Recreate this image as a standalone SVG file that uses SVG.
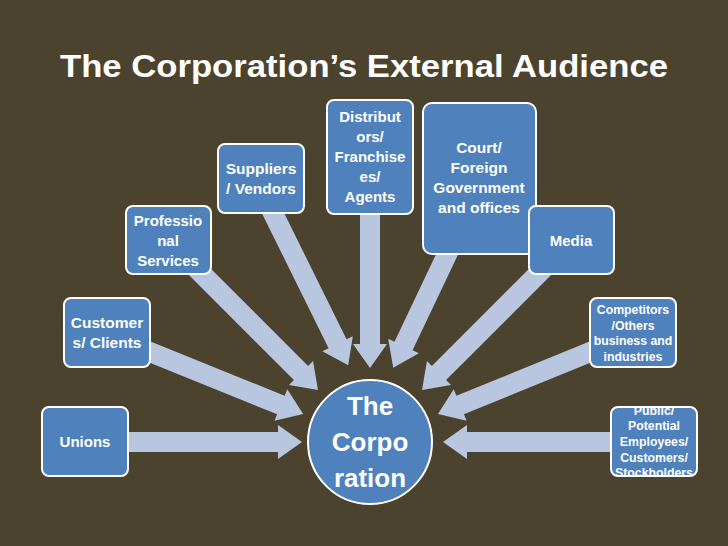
<svg xmlns="http://www.w3.org/2000/svg" width="728" height="546" viewBox="0 0 728 546">
<defs>
<style>
.bg{fill:#4b432e}
.box{fill:#4f81bd;stroke:#ffffff;stroke-width:2}
.arr{fill:#b8c6e0}
.t{font-family:"Liberation Sans",Arial,sans-serif;font-weight:bold;fill:#ffffff;text-anchor:middle}
.t15{font-size:15px}
.t12{font-size:12.3px}
.t16{font-size:15.5px}
</style>
<polygon id="ah" points="0,-10 -24,-10 -24,-18 0,0 -24,18 -24,10"/>
<clipPath id="pubclip"><rect x="611" y="407" width="86" height="69" rx="7"/></clipPath>
</defs>
<rect class="bg" x="0" y="0" width="728" height="546"/>
<text class="t" x="364" y="77" font-size="31" textLength="608" lengthAdjust="spacingAndGlyphs">The Corporation’s External Audience</text>

<g id="connectors">
<polygon class="arr" transform="translate(120,442) rotate(0)" points="0,-10 158,-10 158,-17 182,0 158,17 158,10 0,10"/>
<polygon class="arr" transform="translate(620,442) rotate(180)" points="0,-10 153,-10 153,-17 177,0 153,17 153,10 0,10"/>
<polygon class="arr" transform="translate(140,348) rotate(22.04)" points="0,-10 152,-10 152,-17 176,0 152,17 152,10 0,10"/>
<polygon class="arr" transform="translate(600,348) rotate(157.83)" points="0,-10 151,-10 151,-17 175,0 151,17 151,10 0,10"/>
<polygon class="arr" transform="translate(190,262) rotate(45)" points="0,-10 157,-10 157,-17 181,0 157,17 157,10 0,10"/>
<polygon class="arr" transform="translate(550,262) rotate(135)" points="0,-10 157,-10 157,-17 181,0 157,17 157,10 0,10"/>
<polygon class="arr" transform="translate(268,203) rotate(63.7)" points="0,-10 157,-10 157,-17 181,0 157,17 157,10 0,10"/>
<polygon class="arr" transform="translate(452,244) rotate(115.4)" points="0,-10 113,-10 113,-17 137,0 113,17 113,10 0,10"/>
<polygon class="arr" transform="translate(370,205) rotate(90)" points="0,-10 139,-10 139,-17 163,0 139,17 139,10 0,10"/>
</g>

<g id="unions">
<rect class="box" x="42" y="407" width="86" height="69" rx="7"/>
<text class="t t15" x="85" y="447">Unions</text>
</g>
<g id="customers">
<rect class="box" x="64" y="298" width="86" height="69" rx="7"/>
<text class="t t16" x="107" y="328">Customer</text>
<text class="t t16" x="107" y="348">s/ Clients</text>
</g>
<g id="professional">
<rect class="box" x="126" y="206" width="85" height="68" rx="7"/>
<text class="t t15" x="168" y="226">Professio</text>
<text class="t t15" x="168" y="246">nal</text>
<text class="t t15" x="168" y="266">Services</text>
</g>
<g id="suppliers">
<rect class="box" x="218" y="144" width="86" height="69" rx="7"/>
<text class="t t16" x="261" y="174">Suppliers</text>
<text class="t t16" x="261" y="194">/ Vendors</text>
</g>
<g id="distributors">
<rect class="box" x="327" y="100" width="86" height="114" rx="7"/>
<text class="t t15" x="370" y="122">Distribut</text>
<text class="t t15" x="370" y="142">ors/</text>
<text class="t t15" x="370" y="162">Franchise</text>
<text class="t t15" x="370" y="182">es/</text>
<text class="t t15" x="370" y="202">Agents</text>
</g>
<g id="court">
<rect class="box" x="423" y="103" width="113" height="151" rx="9"/>
<text class="t t16" x="479" y="153">Court/</text>
<text class="t t16" x="479" y="173">Foreign</text>
<text class="t t16" x="479" y="193">Government</text>
<text class="t t16" x="479" y="213">and offices</text>
</g>
<g id="media">
<rect class="box" x="529" y="206" width="85" height="68" rx="7"/>
<text class="t t15" x="571" y="246">Media</text>
</g>
<g id="competitors">
<rect class="box" x="590" y="298" width="86" height="69" rx="7"/>
<text class="t t12" x="633" y="314">Competitors</text>
<text class="t t12" x="633" y="330">/Others</text>
<text class="t t12" x="633" y="345">business and</text>
<text class="t t12" x="633" y="361">industries</text>
</g>
<g id="public">
<rect x="611" y="407" width="86" height="69" rx="7" fill="#4f81bd"/>
<g clip-path="url(#pubclip)">
<text class="t t12" x="654" y="415">Public/</text>
<text class="t t12" x="654" y="430">Potential</text>
<text class="t t12" x="654" y="446">Employees/</text>
<text class="t t12" x="654" y="462">Customers/</text>
<text class="t t12" x="654" y="477">Stockholders</text>
</g>
<rect x="611" y="407" width="86" height="69" rx="7" fill="none" stroke="#ffffff" stroke-width="2"/>
</g>
<g id="corporation">
<circle class="box" cx="370" cy="442" r="62"/>
<text class="t" x="370" y="415" font-size="26">The</text>
<text class="t" x="370" y="451" font-size="26">Corpo</text>
<text class="t" x="370" y="487" font-size="26">ration</text>
</g>
</svg>
